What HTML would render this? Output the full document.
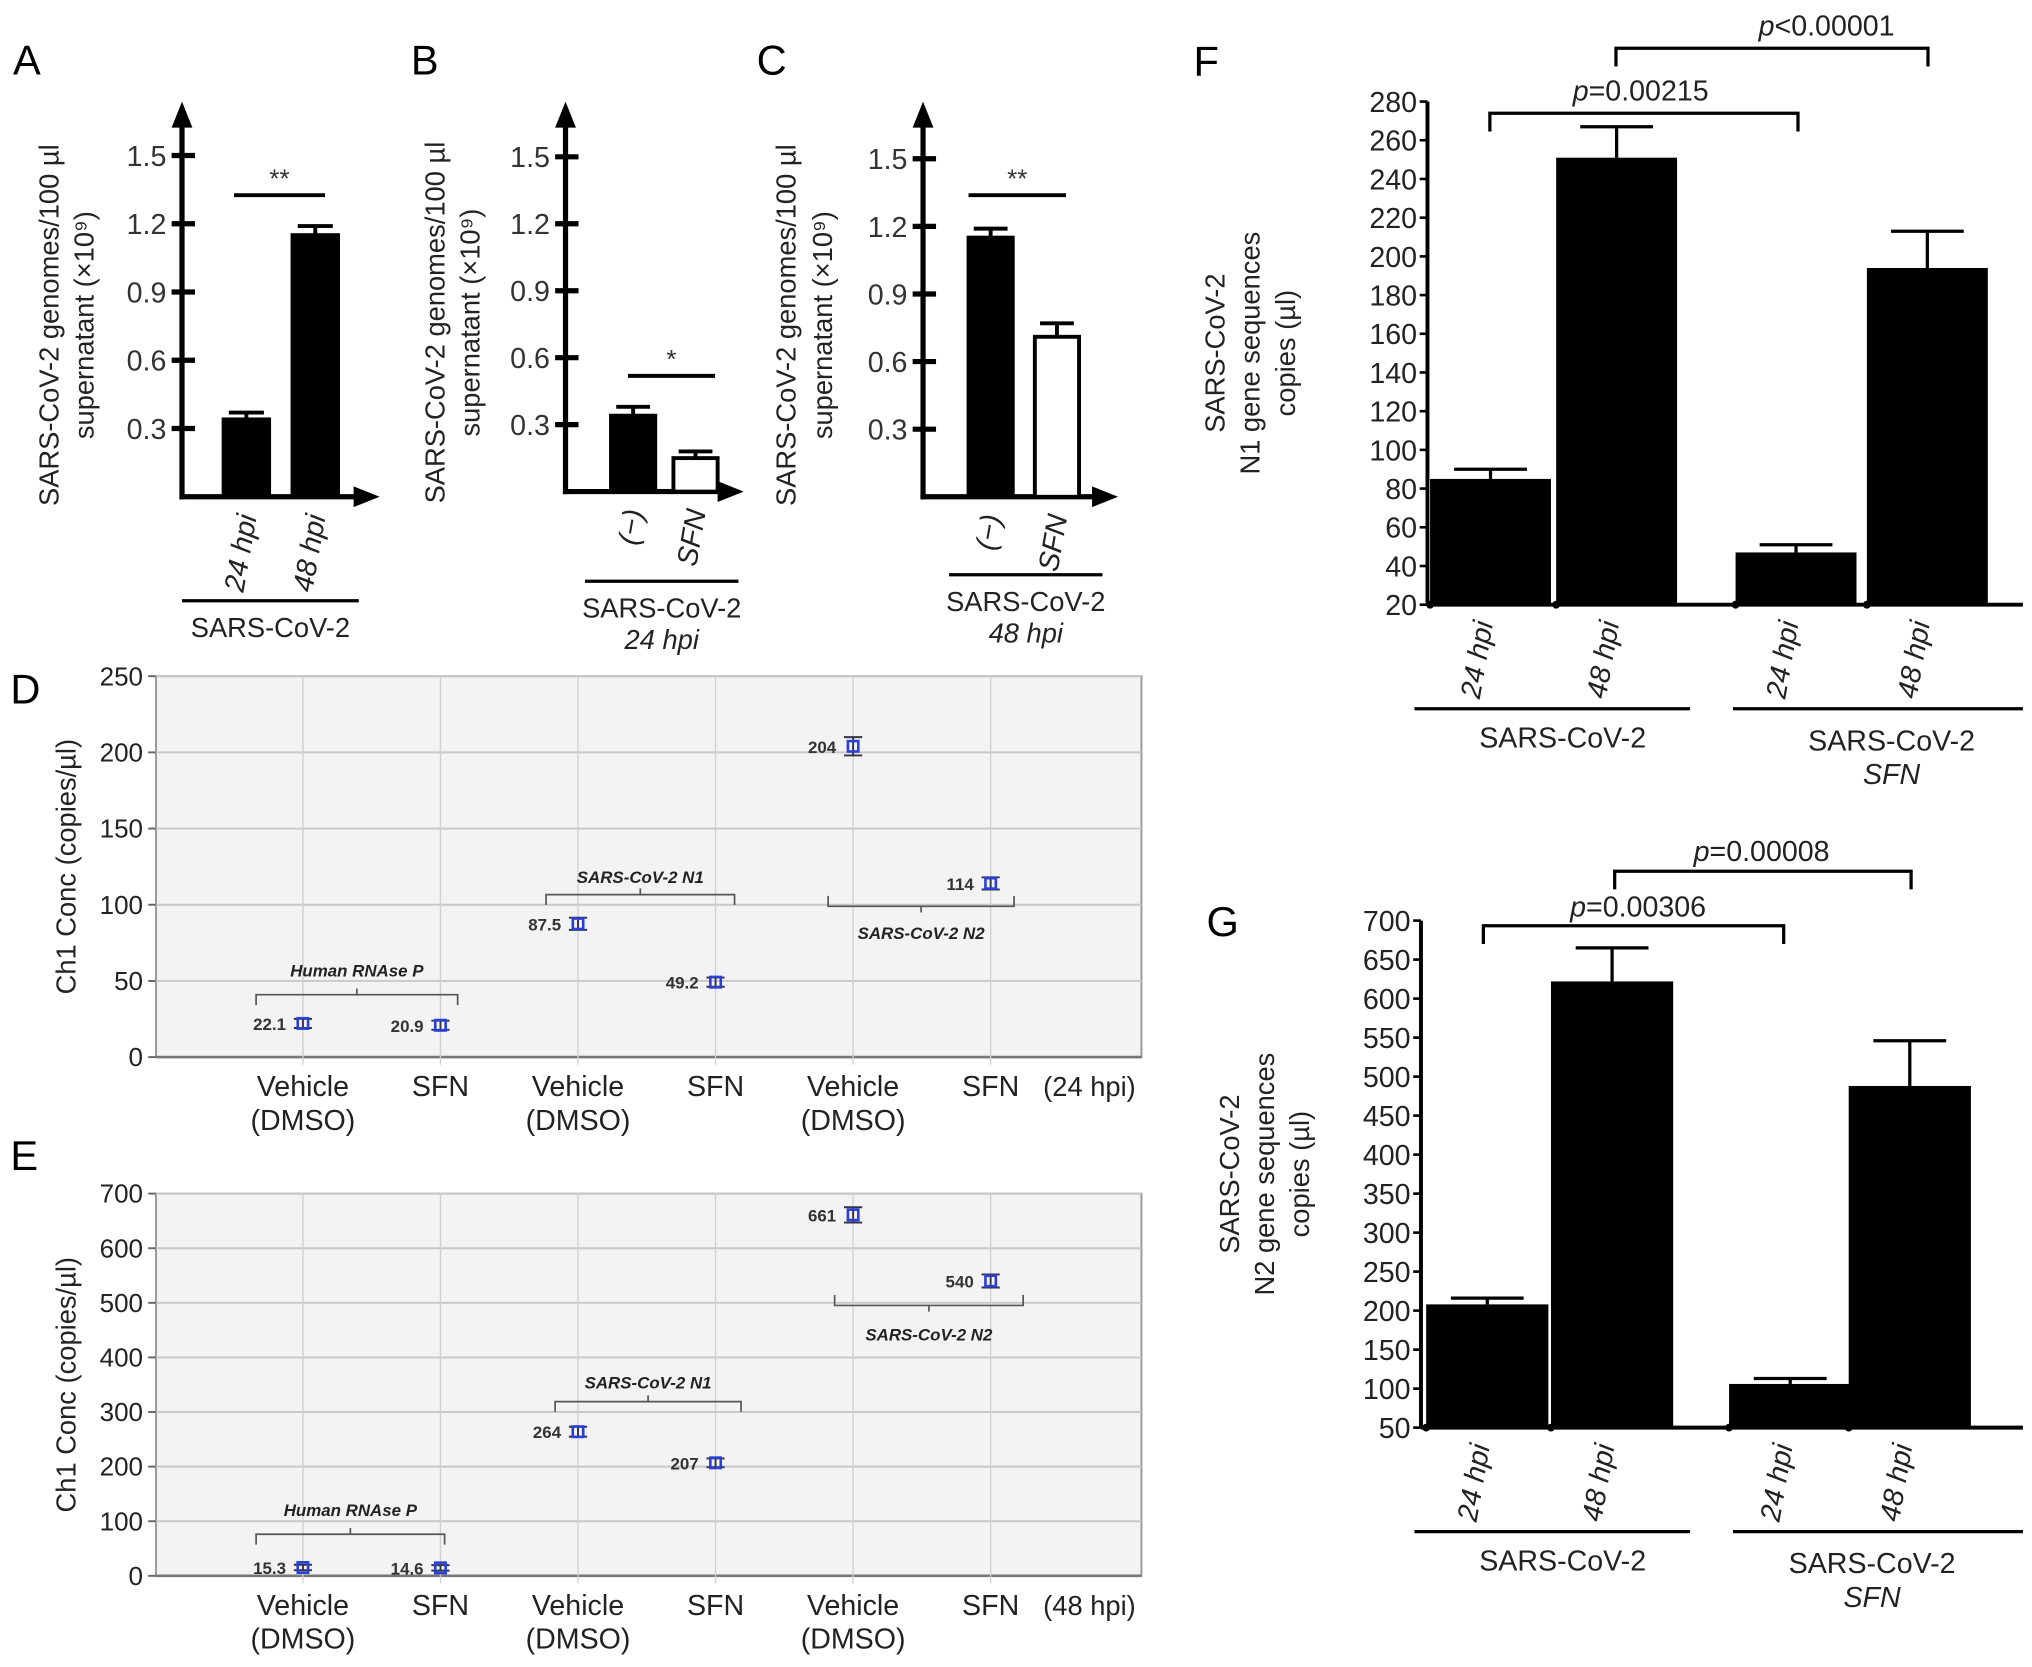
<!DOCTYPE html>
<html><head><meta charset="utf-8">
<style>
html,body{margin:0;padding:0;background:#fff;}
svg{display:block;font-family:"Liberation Sans",Arial,sans-serif;}
</style></head>
<body>
<svg id="fig" width="2032" height="1667" viewBox="0 0 1563 1282" xmlns="http://www.w3.org/2000/svg"></svg>
<script>
// ---------- data ----------
const aCats = ["24 hpi","48 hpi"];
const aVals = [0.34, 1.15];
const aErrs = [0.03, 0.04];
const bCats = ["(\u2212)","SFN"];
const bVals = [0.34, 0.15];
const bErrs = [0.04, 0.03];
const cCats = ["(\u2212)","SFN"];
const cVals = [1.15, 0.71];
const cErrs = [0.04, 0.06];
const abcTicks = [0.3, 0.6, 0.9, 1.2, 1.5];

const dCats = ["Vehicle|(DMSO)","SFN","Vehicle|(DMSO)","SFN","Vehicle|(DMSO)","SFN"];
const dVals = [22.1, 20.9, 87.5, 49.2, 204, 114];
const dErrs = [3, 3, 4, 3, 6, 4];
const dLabels = ["22.1","20.9","87.5","49.2","204","114"];
const dTicks = [0, 50, 100, 150, 200, 250];
const eVals = [15.3, 14.6, 264, 207, 661, 540];
const eErrs = [5, 5, 9, 8, 14, 12];
const eLabels = ["15.3","14.6","264","207","661","540"];
const eTicks = [0, 100, 200, 300, 400, 500, 600, 700];

const fCats = ["24 hpi","48 hpi","24 hpi","48 hpi"];
const fVals = [85, 251, 47, 194];
const fErrs = [5, 16, 4, 19];
const fTicks = [20,40,60,80,100,120,140,160,180,200,220,240,260,280];
const gVals = [208, 622, 106, 488];
const gErrs = [8, 43, 7, 58];
const gTicks = [50,100,150,200,250,300,350,400,450,500,550,600,650,700];

// ---------- helpers ----------
const NS = "http://www.w3.org/2000/svg";
const svg = document.getElementById("fig");
function mk(tag, attrs, name, parent){
  const el = document.createElementNS(NS, tag);
  for (const k in attrs) el.setAttribute(k, attrs[k]);
  
  
  (parent||svg).appendChild(el);
  return el;
}
function line(x1,y1,x2,y2,w,name,col){return mk("line",{x1,y1,x2,y2,stroke:col||"#000","stroke-width":w},name);}
function txt(x,y,s,size,name,opt){
  opt=opt||{};
  const t=mk("text",{x,y,"font-size":size,"text-anchor":opt.anchor||"middle",fill:opt.fill||"#1a1a1a","font-style":opt.italic?"italic":"normal","font-weight":opt.bold?"bold":"normal"},name);
  if(opt.rot!==undefined) t.setAttribute("transform","rotate("+opt.rot+" "+x+" "+y+")");
  t.textContent=s; return t;
}
function arrowHead(x,y,dir,name){
  const p = dir==="up" ? `${x-8},${y+20} ${x+8},${y+20} ${x},${y}` : `${x-20},${y-8} ${x-20},${y+8} ${x},${y}`;
  mk("polygon",{points:p,fill:"#000"},name);
}

// ---------- panels A,B,C ----------
function smallPanel(cfg){
  const {ax,top,right,zero,unit,cats,vals,errs,fills,bx,bw,letter,lx,tx1,tx2,sig,sigY,sigX1,sigX2,grpY,grpX1,grpX2,grp1,grp2,key} = cfg;
  const y = v => zero - v/0.3*unit;
  txt(lx,57,letter,32,"panel-label-"+key,{anchor:"start",fill:"#000"});
  line(ax,zero+2,ax,top+18,4,"y-axis-"+key);
  arrowHead(ax,top,"up","y-arrow-"+key);
  line(ax-2,zero,right-18,zero,4,"x-axis-"+key);
  arrowHead(right,zero,"right","x-arrow-"+key);
  abcTicks.forEach(t=>{
    line(ax-8,y(t),ax+10,y(t),4,"y-tick-"+key);
    txt(ax-12,y(t)+8,t.toFixed(1),22,"y-tick-label-"+key,{anchor:"end",fill:"#333"});
  });
  vals.forEach((v,i)=>{
    const x=bx[i];
    const e=v+errs[i];
    line(x+bw/2,y(e),x+bw/2,y(v),3,"error-bar-"+key);
    line(x+4,y(e),x+bw-4,y(e),3,"error-cap-"+key);
    mk("rect",{x:x,y:y(v),width:bw,height:zero-y(v),fill:fills[i],stroke:"#000","stroke-width":3},"bar-"+key+"-"+i);
    txt(x+bw/2+8,zero+15,cats[i],22,"x-label-"+key,{anchor:"end",italic:true,rot:-80,fill:"#222"});
  });
  line(sigX1,sigY,sigX2,sigY,3,"significance-line-"+key);
  txt((sigX1+sigX2)/2,sigY-6,sig,20,"significance-"+key,{fill:"#333"});
  line(grpX1,grpY,grpX2,grpY,2.5,"group-line-"+key);
  txt((grpX1+grpX2)/2,grpY+28,grp1,21,"group-label-"+key,{fill:"#222"});
  if(grp2) txt((grpX1+grpX2)/2,grpY+52,grp2,21,"group-sub-label-"+key,{italic:true,fill:"#222"});
  txt(tx1,(zero+top)/2+20,"SARS-CoV-2 genomes/100 \u00b5l",21,"y-axis-title-"+key,{rot:-90,fill:"#222"});
  txt(tx2,(zero+top)/2+20,"supernatant (\u00d710\u2079)",21,"y-axis-title2-"+key,{rot:-90,fill:"#222"});
}
smallPanel({key:"a",ax:140,top:78,right:292,zero:382,unit:52.5,cats:aCats,vals:aVals,errs:aErrs,fills:["#000","#000"],bx:[172,225],bw:35,letter:"A",lx:10,tx1:45,tx2:72,sig:"**",sigY:150,sigX1:180,sigX2:250,grpY:462,grpX1:140,grpX2:276,grp1:"SARS-CoV-2"});
smallPanel({key:"b",ax:435,top:78,right:572,zero:378,unit:51.5,cats:bCats,vals:bVals,errs:bErrs,fills:["#000","#fff"],bx:[470,518],bw:34,letter:"B",lx:316,tx1:342,tx2:369,sig:"*",sigY:289,sigX1:483,sigX2:550,grpY:447,grpX1:450,grpX2:568,grp1:"SARS-CoV-2",grp2:"24 hpi"});
smallPanel({key:"c",ax:710,top:78,right:860,zero:382,unit:52,cats:cCats,vals:cVals,errs:cErrs,fills:["#000","#fff"],bx:[745,796],bw:34,letter:"C",lx:582,tx1:612,tx2:640,sig:"**",sigY:150,sigX1:745,sigX2:820,grpY:442,grpX1:730,grpX2:848,grp1:"SARS-CoV-2",grp2:"48 hpi"});

// ---------- panels D,E ----------
const dxPos = i => 233 + i*105.8;
function dotPanel(cfg){
  const {key,top,bot,ticks,vmax,vals,errs,labels,letter,ly,hpi,brackets} = cfg;
  const y = v => bot - v/vmax*(bot-top);
  txt(8,ly,letter,32,"panel-label-"+key,{anchor:"start",fill:"#000"});
  mk("rect",{x:120,y:top,width:758,height:bot-top,fill:"#f3f3f3",stroke:"#999","stroke-width":1.5},"plot-area-"+key);
  ticks.forEach(t=>{
    line(120,y(t),878,y(t),1.5,"gridline-"+key,"#c8c8c8");
    line(114,y(t),120,y(t),1.5,"y-tick-"+key,"#666");
    txt(110,y(t)+7,String(t),20,"y-tick-label-"+key,{anchor:"end",fill:"#222"});
  });
  line(120,bot,878,bot,2,"x-axis-"+key,"#777");
  dCats.forEach((c,i)=>{
    const x=dxPos(i);
    line(x,top,x,bot+6,1,"vgrid-"+key,"#cfcfcf");
    const parts=c.split("|");
    parts.forEach((p,j)=>txt(x,bot+30+j*26,p,22,"x-label-"+key,{fill:"#222"}));
  });
  txt(838,bot+30,hpi,21,"timepoint-label-"+key,{fill:"#222"});
  txt(58,(top+bot)/2,"Ch1 Conc (copies/\u00b5l)",21,"y-axis-title-"+key,{rot:-90,fill:"#222"});
  brackets.forEach(b=>{
    const d=b.up?-8:8;
    mk("path",{d:`M${b.x1},${b.y+d} L${b.x1},${b.y} L${b.x2},${b.y} L${b.x2},${b.y+d} M${(b.x1+b.x2)/2},${b.y} L${(b.x1+b.x2)/2},${b.y-d*0.6}`,fill:"none",stroke:"#555","stroke-width":1.3},"bracket-"+key);
    txt((b.x1+b.x2)/2,b.ty,b.label,13,"bracket-label-"+key,{italic:true,bold:true,fill:"#222"});
  });
  vals.forEach((v,i)=>{
    const x=dxPos(i);
    const e=errs[i];
    line(x,y(v+e),x,y(v-e),1.5,"error-bar-"+key,"#334");
    line(x-7,y(v+e),x+7,y(v+e),1.5,"error-cap-"+key,"#334");
    line(x-7,y(v-e),x+7,y(v-e),1.5,"error-cap-"+key,"#334");
    mk("rect",{x:x-4,y:y(v)-4,width:8,height:8,fill:"none",stroke:"#2a3fd8","stroke-width":2},"point-"+key+"-"+i);
    txt(x-13,y(v)+5,labels[i],13,"value-label-"+key,{anchor:"end",bold:true,fill:"#333"});
  });
}
dotPanel({key:"d",top:520,bot:813,ticks:dTicks,vmax:250,vals:dVals,errs:dErrs,labels:dLabels,letter:"D",ly:541,hpi:"(24 hpi)",
  brackets:[{x1:197,x2:352,y:765,ty:751,label:"Human RNAse P"},{x1:420,x2:565,y:688,ty:679,label:"SARS-CoV-2 N1"},{x1:637,x2:780,y:697,up:true,ty:722,label:"SARS-CoV-2 N2"}]});
dotPanel({key:"e",top:918,bot:1212,ticks:eTicks,vmax:700,vals:eVals,errs:eErrs,labels:eLabels,letter:"E",ly:900,hpi:"(48 hpi)",
  brackets:[{x1:197,x2:342,y:1180,ty:1166,label:"Human RNAse P"},{x1:427,x2:570,y:1078,ty:1068,label:"SARS-CoV-2 N1"},{x1:642,x2:787,y:1004,up:true,ty:1031,label:"SARS-CoV-2 N2"}]});

// ---------- panels F,G ----------
function barPanel(cfg){
  const {key,ax,top,zero,ticks,vals,errs,bx,bw,letter,lx,ly,titleX,gene,br,grpY,grpText}=cfg;
  const vmin=ticks[0], vmax=ticks[ticks.length-1];
  const y = v => zero - (v-vmin)/(vmax-vmin)*(zero-top);
  txt(lx,ly,letter,32,"panel-label-"+key,{anchor:"start",fill:"#000"});
  line(ax,top,ax,zero,3,"y-axis-"+key);
  line(ax,zero,1556,zero,3,"x-axis-"+key);
  ticks.forEach(t=>{
    line(ax-6,y(t),ax,y(t),2,"y-tick-"+key);
    txt(ax-8,y(t)+8,String(t),22,"y-tick-label-"+key,{anchor:"end",fill:"#222"});
  });
  vals.forEach((v,i)=>{
    const x=bx[i], e=v+errs[i];
    line(x+bw/2,y(e),x+bw/2,y(v),2.5,"error-bar-"+key);
    line(x+bw/2-28,y(e),x+bw/2+28,y(e),2.5,"error-cap-"+key);
    mk("rect",{x:x,y:y(v),width:bw,height:zero-y(v),fill:"#000"},"bar-"+key+"-"+i);
    mk("circle",{cx:x,cy:zero,r:3,fill:"#000"},"x-tick-"+key);
    txt(x+bw/2+2,zero+14,fCats[i],22,"x-label-"+key,{anchor:"end",italic:true,rot:-80,fill:"#222"});
  });
  br.forEach(b=>{
    mk("path",{d:`M${b.x1},${b.y+14} L${b.x1},${b.y} L${b.x2},${b.y} L${b.x2},${b.y+14}`,fill:"none",stroke:"#000","stroke-width":2.5},"p-bracket-"+key);
    const t=mk("text",{x:b.tx,y:b.ty,"font-size":22,"text-anchor":"middle",fill:"#222"},"p-value-"+key);
    const ts=document.createElementNS(NS,"tspan"); ts.setAttribute("font-style","italic"); ts.textContent="p"; t.appendChild(ts);
    t.appendChild(document.createTextNode(b.label));
  });
  line(1088,grpY,1300,grpY,2.5,"group-line-"+key+"-1");
  line(1333,grpY,1556,grpY,2.5,"group-line-"+key+"-2");
  txt(1202,grpY+30,"SARS-CoV-2",22,"group-label-"+key+"-1",{fill:"#222"});
  txt(grpText,grpY+32,"SARS-CoV-2",22,"group-label-"+key+"-2",{fill:"#222"});
  txt(grpText,grpY+58,"SFN",22,"group-sub-label-"+key,{italic:true,fill:"#222"});
  const cy=(top+zero)/2;
  txt(titleX,cy,"SARS-CoV-2",21,"y-axis-title-"+key,{rot:-90,fill:"#222"});
  txt(titleX+27,cy,gene+" gene sequences",21,"y-axis-title2-"+key,{rot:-90,fill:"#222"});
  txt(titleX+54,cy,"copies (\u00b5l)",21,"y-axis-title3-"+key,{rot:-90,fill:"#222"});
}
barPanel({key:"f",ax:1098,top:78,zero:465,ticks:fTicks,vals:fVals,errs:fErrs,bx:[1100,1197,1335,1436],bw:93,letter:"F",lx:918,ly:58,titleX:942,gene:"N1",
  br:[{x1:1146,x2:1383,y:87,tx:1262,ty:77,label:"=0.00215"},{x1:1243,x2:1483,y:37,tx:1405,ty:27,label:"<0.00001"}],grpY:545,grpText:1455});
barPanel({key:"g",ax:1093,top:708,zero:1098,ticks:gTicks,vals:gVals,errs:gErrs,bx:[1097,1193,1330,1422],bw:94,letter:"G",lx:928,ly:720,titleX:953,gene:"N2",
  br:[{x1:1141,x2:1372,y:712,tx:1260,ty:705,label:"=0.00306"},{x1:1242,x2:1470,y:670,tx:1355,ty:662,label:"=0.00008"}],grpY:1178,grpText:1440});
</script>
</body></html>
